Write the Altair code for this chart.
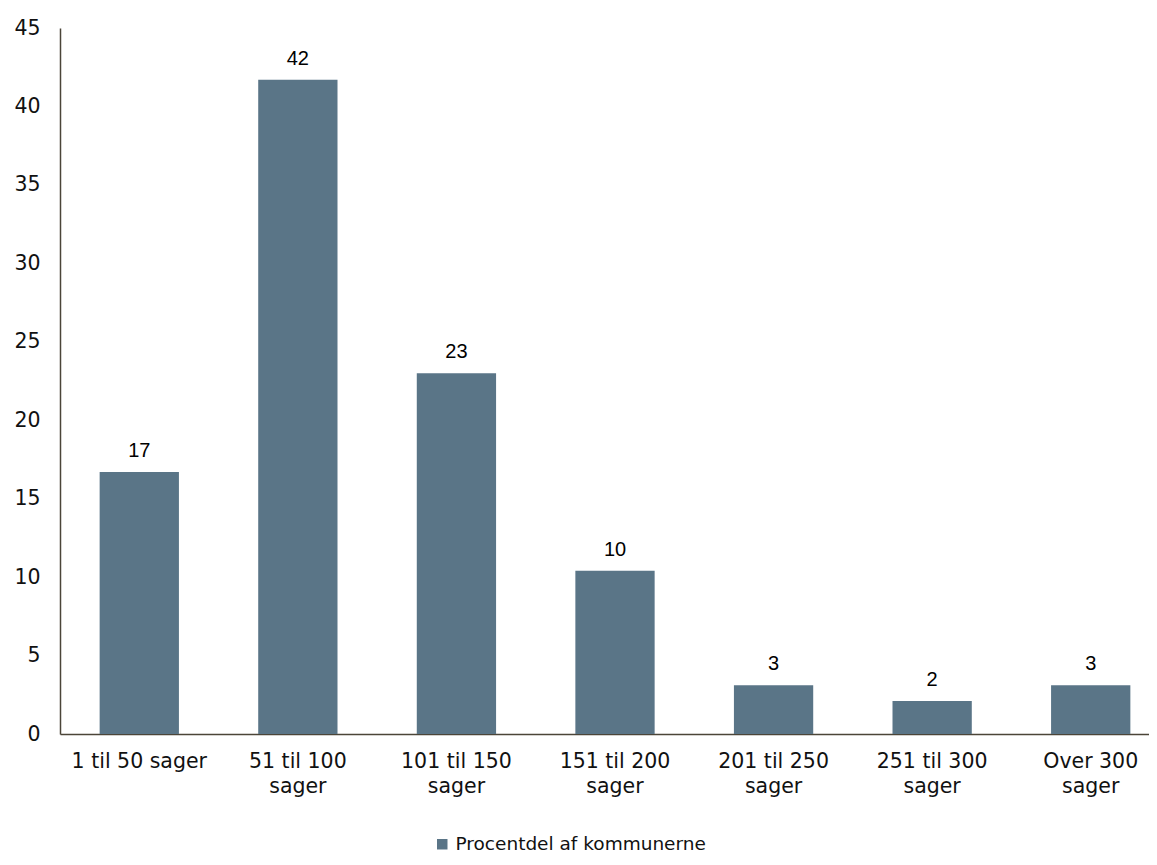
import altair as alt
import pandas as pd

categories = ["1 til 50 sager", "51 til 100 sager", "101 til 150 sager", "151 til 200 sager",
              "201 til 250 sager", "251 til 300 sager", "Over 300 sager"]
values = [16.7, 41.7, 23.0, 10.4, 3.1, 2.1, 3.1]
series_name = "Procentdel af kommunerne"
y_ticks = [0, 5, 10, 15, 20, 25, 30, 35, 40, 45]

df = pd.DataFrame({
    "kategori": categories,
    "vaerdi": values,
    "etiket": [str(int(round(v))) for v in values],
    "serie": [series_name] * len(categories),
})

BAR = "#5a7587"
AXIS = "#4b4538"
FONT = "DejaVu Sans"

x = alt.X("kategori:N", sort=categories, title=None,
          scale=alt.Scale(range=[0, 1110], paddingInner=0.5, paddingOuter=0.25),
          axis=alt.Axis(labelAngle=0, ticks=False, domainColor=AXIS, domainWidth=1.5,
                        labelFont=FONT, labelFontSize=20.5, labelColor="#111111",
                        labelPadding=17, labelLineHeight=25, labelLimit=300,
                        labelExpr="datum.label == '1 til 50 sager' ? datum.label : [replace(datum.label, ' sager', ''), 'sager']"))

y = alt.Y("vaerdi:Q", title=None,
          scale=alt.Scale(domain=[0, 45], nice=False),
          axis=alt.Axis(values=y_ticks, grid=False, ticks=False, domainColor=AXIS, domainWidth=1.5,
                        labelFont=FONT, labelFontSize=20.5, labelColor="#111111", labelPadding=20))

bars = alt.Chart(df).mark_bar().encode(
    x=x, y=y,
    color=alt.Color("serie:N", title=None,
                    scale=alt.Scale(domain=[series_name], range=[BAR]),
                    legend=alt.Legend(orient="none", legendX=373, legendY=807, symbolType="square",
                                      symbolSize=110, symbolStrokeWidth=0, labelFont=FONT,
                                      labelFontSize=18.5, labelColor="#111111", labelOffset=4,
                                      labelLimit=500)),
)

text = alt.Chart(df).mark_text(baseline="bottom", dy=-11, font="Liberation Sans", fontSize=20,
                               color="#000000").encode(
    x=alt.X("kategori:N", sort=categories),
    y=alt.Y("vaerdi:Q"),
    text="etiket:N",
)

chart = (bars + text).properties(
    width=1089, height=706,
    padding={"left": 52, "top": 20, "right": 0, "bottom": 123},
    autosize=alt.AutoSizeParams(type="none"),
).configure(background="white").configure_view(stroke="transparent", strokeWidth=0)

chart.save("out.html", embed_options={"renderer": "svg", "actions": False})
